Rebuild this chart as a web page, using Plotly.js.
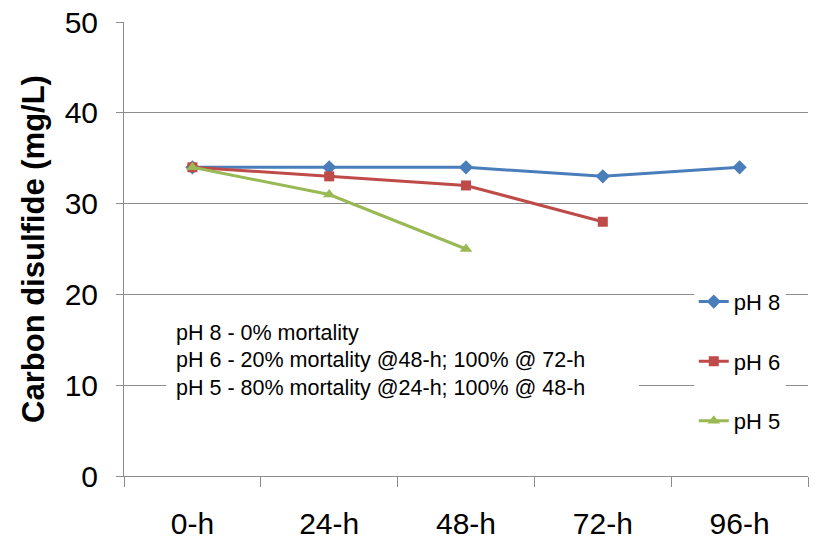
<!DOCTYPE html>
<html>
<head>
<meta charset="utf-8">
<script src="https://cdn.plot.ly/plotly-3.0.1.min.js"></script>
<style>html,body{margin:0;padding:0;background:#fff;}#chart{width:823px;height:548px;}</style>
</head>
<body>
<div id="chart"></div>
<script>
var categories = ["0-h", "24-h", "48-h", "72-h", "96-h"];
var ph8 = [34, 34, 34, 33, 34];
var ph6 = [34, 33, 32, 28];
var ph5 = [34, 31, 25];
var seriesNames = ["pH 8", "pH 6", "pH 5"];
var noteLines = ["pH 8 - 0% mortality", "pH 6 - 20% mortality @48-h; 100% @ 72-h", "pH 5 - 80% mortality @24-h; 100% @ 48-h"];

var FONT = "Arial, 'Liberation Sans', sans-serif";
var GRID = "#8c8c8c";

var traces = [
  {x: categories.slice(0, ph8.length), y: ph8, name: seriesNames[0], type: "scatter", mode: "lines+markers",
   legendgroup: "a", line: {color: "#4A7EBB", width: 3}, marker: {symbol: "diamond", size: 11, color: "#4A7EBB"}},
  {x: categories.slice(0, ph6.length), y: ph6, name: seriesNames[1], type: "scatter", mode: "lines+markers",
   legendgroup: "b", line: {color: "#BE4B48", width: 3}, marker: {symbol: "square", size: 10, color: "#BE4B48"}},
  {x: categories.slice(0, ph5.length), y: ph5, name: seriesNames[2], type: "scatter", mode: "lines+markers",
   legendgroup: "c", line: {color: "#98B954", width: 3}, marker: {symbol: "triangle-up", size: 11, color: "#98B954"}}
];

var layout = {
  width: 823, height: 548,
  margin: {l: 124, r: 15, t: 22, b: 72},
  paper_bgcolor: "#fff", plot_bgcolor: "#fff",
  font: {family: FONT, color: "#000"},
  showlegend: true,
  legend: {
    x: 0.833, xanchor: "left", y: 0.43, yanchor: "top",
    bgcolor: "#fff", borderwidth: 0,
    font: {size: 22, family: FONT, color: "#000"},
    tracegroupgap: 28, itemwidth: 30
  },
  xaxis: {
    type: "category", categoryarray: categories, range: [-0.5, 4.5],
    showline: true, linecolor: GRID, linewidth: 1,
    ticks: "outside", tickson: "boundaries", ticklen: 10, tickcolor: GRID,
    tickfont: {size: 30, family: FONT, color: "#000"},
    ticklabelstandoff: 21,
    showgrid: false, zeroline: false, fixedrange: true
  },
  yaxis: {
    range: [0, 50], dtick: 10, tick0: 0,
    showline: true, linecolor: GRID, linewidth: 1,
    ticks: "outside", ticklen: 7, tickcolor: GRID,
    tickfont: {size: 30, family: FONT, color: "#000"},
    ticklabelstandoff: 12,
    showgrid: true, gridcolor: GRID, gridwidth: 1,
    zeroline: false,
    title: {text: "Carbon disulfide (mg/L)", font: {size: 31, family: FONT, color: "#000", weight: "bold"}, standoff: 10},
    fixedrange: true
  },
  annotations: [{
    xref: "paper", yref: "paper",
    x: (166 - 124) / 684, xanchor: "left",
    y: 0.255, yanchor: "middle",
    text: noteLines.join("<br>"),
    showarrow: false, align: "left",
    width: 453, height: 85, borderpad: 10, borderwidth: 0,
    bgcolor: "#fff",
    font: {size: 21.5, family: FONT, color: "#000"}
  }]
};

Plotly.newPlot("chart", traces, layout, {displayModeBar: false, staticPlot: true});
</script>
</body>
</html>
